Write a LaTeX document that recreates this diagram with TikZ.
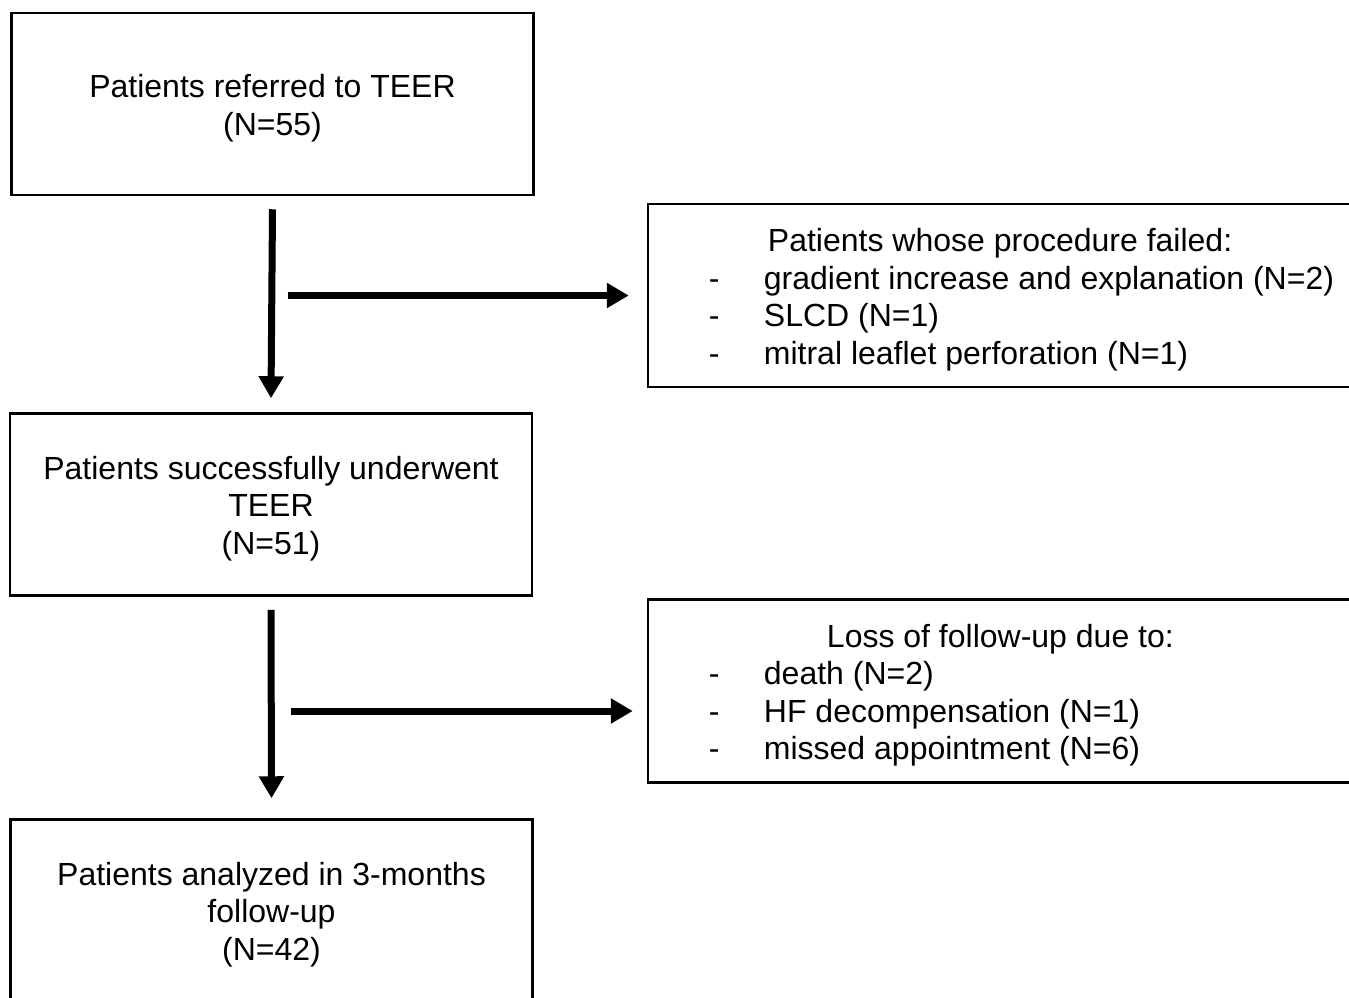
\documentclass[tikz,border=0pt]{standalone}
\usepackage{fontspec}
\setmainfont{Liberation Sans}
\usetikzlibrary{arrows.meta,positioning}
\newcommand{\itemdash}{\makebox[55pt][l]{-}}
\newcommand{\topgap}{\rule{0pt}{31.5pt}}
\begin{document}
\begin{tikzpicture}
[x=1pt,y=-1pt,
every node/.style={font=\fontsize{32}{37.5}\selectfont},
box/.style={draw,line width=2.5pt,rectangle,minimum width=522pt,minimum height=182pt,align=center},
sidebox/.style={draw,line width=2.5pt,rectangle,minimum width=704pt,minimum height=183pt},
listtext/.style={anchor=west,align=left,inner sep=0pt},
flow/.style={line width=7pt,-{Triangle[length=22pt,width=24pt]}}]
\useasboundingbox (0,0) rectangle (1349,997);
% main column
\node[box] (referred) at (272.5,104) {\topgap Patients referred to TEER\\(N=55)};
\node[box] (success) at (271,504.5) {\topgap Patients successfully underwent\\TEER\\(N=51)};
\node[box] (analyzed) at (271.5,910.5) {\topgap Patients analyzed in 3-months\\follow-up\\(N=42)};
% side boxes
\node[sidebox] (failed) at (1000,295.5) {};
\node[listtext] (failedtext) at ([xshift=62pt]failed.west)
{\topgap\hspace*{59pt}Patients whose procedure failed:\\
\itemdash gradient increase and explanation (N=2)\\
\itemdash SLCD (N=1)\\
\itemdash mitral leaflet perforation (N=1)};
\node[sidebox] (loss) at (1000,691) {};
\node[listtext] (losstext) at ([xshift=62pt]loss.west)
{\topgap\hspace*{118pt}Loss of follow-up due to:\\
\itemdash death (N=2)\\
\itemdash HF decompensation (N=1)\\
\itemdash missed appointment (N=6)};
% arrows
\draw[flow] ([yshift=-13pt]referred.south) -- ([yshift=14pt]success.north);
\draw[flow] ([xshift=15pt]referred.south |- failed.west) -- ([xshift=-18pt]failed.west);
\draw[flow] ([yshift=-13pt]success.south) -- ([yshift=20pt]analyzed.north);
\draw[flow] ([xshift=20pt,yshift=-20pt]success.south |- loss.west) -- ([xshift=-14pt,yshift=-20pt]loss.west);
\end{tikzpicture}
\end{document}
